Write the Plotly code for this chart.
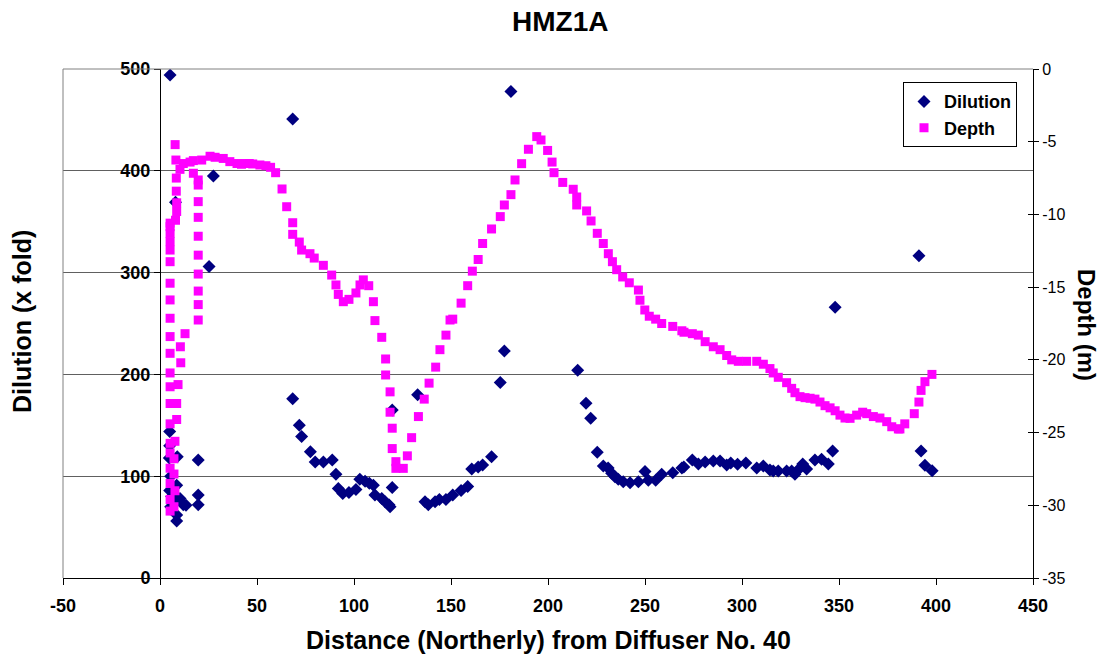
import plotly.graph_objects as go

# ---- Dilution (x fold) vs distance ----
dil_x = [5.2, 5.0, 5.0, 4.8, 5.5, 5.0, 6.0, 5.5,
         8.0, 8.9, 8.6, 8.6, 10.3, 12.0, 13.4, 8.6, 8.6,
         19.7, 19.7, 19.7, 25.3, 27.5,
         68.4, 68.4, 71.8, 73.0, 77.5, 80.0, 84.2, 88.8, 90.7, 91.9, 94.2, 97.4,
         101.0, 103.0, 105.7, 107.9, 110.0, 110.8, 114.3, 116.0, 118.0, 119.7, 119.7, 118.6,
         132.8, 136.6, 138.3, 141.8, 144.0, 147.4, 150.9, 155.2, 158.6, 160.7, 164.0, 166.3,
         170.9, 175.4, 177.5, 180.9,
         215.3, 219.6, 222.0, 225.4, 228.5, 231.0, 232.8, 234.5, 236.2, 238.8, 242.3, 246.6,
         250.0, 251.7, 255.5, 258.6, 264.3, 269.0, 270.0, 274.4, 277.5, 281.0, 285.2, 288.7,
         292.1, 294.2, 297.7, 302.0, 307.6,
         311.0, 314.4, 316.1, 318.7, 323.0, 325.6, 327.3, 329.9, 331.3, 333.3, 337.6, 341.0,
         344.5, 346.7, 348.0,
         391.2, 392.3, 394.3, 398.0]
dil_y = [494, 144, 130, 118, 100, 86, 80, 70,
         369, 119, 91, 77, 78, 72, 71.5, 62, 56,
         116, 81.5, 72, 306, 395,
         451, 176, 150, 139, 124, 114, 114, 116, 102, 88, 83, 84,
         87, 97, 95, 93, 91, 81.5, 78, 75, 72, 89, 165, 70,
         180, 75, 72, 75, 77, 77, 81.5, 86, 90, 107, 109, 111,
         119, 192, 223, 478,
         204, 171.6, 157, 123.5, 110, 108, 103, 99.5, 97, 94.6, 93.6, 94.6,
         104.5, 96, 96, 102, 103.5, 108, 109, 116, 112, 114, 115, 115,
         111, 113, 111.7, 113, 108,
         110, 106, 105, 105, 105, 105, 102, 108, 112, 107, 116, 116.6,
         112, 124.7, 266,
         316.6, 124.7, 110.7, 105.4]

# ---- Depth (m) vs distance ----
dep_x = [5.2, 5.2, 5.2, 5.2, 5.2, 5.2, 5.2, 5.2, 5.2, 5.2, 5.2, 5.2,
         5.2, 5.2, 5.2, 5.2, 5.2, 5.2, 5.2, 5.2, 5.2,
         7.8, 8.2, 8.4, 8.4, 8.6, 8.6, 8.0,
         9.3, 8.6, 8.6, 7.7, 7.2, 7.2, 7.7, 7.2,
         10.3, 10.7, 10.5, 12.9,
         12.0, 15.5, 17.2, 21.5, 25.8, 28.4, 32.6, 36.0, 39.7, 42.0, 44.0, 46.0,
         47.8, 51.5, 54.6, 57.0, 59.6,
         17.2, 19.7, 19.7, 19.7, 19.7, 19.7, 19.7, 19.7, 19.7, 19.7, 19.7,
         62.9, 65.3, 68.4, 68.4, 71.8, 73.0, 77.3, 79.5, 84.2, 88.5, 90.7, 91.9,
         94.5, 97.4, 101.0, 103.1, 104.8, 107.6, 110.0, 110.8, 114.3, 116.3, 116.3,
         118.6, 118.6, 119.7, 119.7, 121.6, 121.6, 125.4, 127.5, 129.7, 133.2, 136.2,
         138.7, 142.1, 144.3, 147.4, 149.5, 150.9, 155.2, 158.6, 161.0, 164.0, 166.3,
         170.9, 175.4, 177.5, 180.9, 183.0, 186.4, 189.9, 194.2, 196.4, 199.8, 202.1,
         203.1, 207.6, 213.0, 214.8, 214.8,
         219.9, 222.2, 225.4, 228.5, 231.1, 233.2, 235.4, 238.5, 241.9, 246.6, 247.4,
         249.9, 252.2, 255.5, 258.6, 264.3, 269.0, 270.1, 274.4, 277.5, 281.0,
         285.2, 288.7, 292.1, 294.7, 298.1, 302.4, 307.6,
         311.0, 314.4, 316.1, 318.7, 323.0, 325.6, 327.3, 329.9, 332.5, 335.1,
         337.6, 340.2, 342.8, 345.4, 348.0, 350.5, 353.1, 355.7,
         359.1, 362.2, 364.3, 367.7, 371.1, 374.6, 377.2, 380.6, 381.4,
         383.9, 388.8, 391.2, 392.3, 394.3, 397.9]
dep_y = [-10.6, -10.84, -11.3, -11.87, -12.45, -13.25, -14.73, -15.88, -17.14, -18.4, -19.55, -20.9,
         -21.85, -23.0, -24.4, -25.74, -26.4, -27.45, -28.5, -29.6, -30.4,
         -5.2, -6.26, -7.5, -8.4, -9.2, -9.8, -10.4,
         -21.7, -23.0, -24.1, -25.6, -26.8, -27.85, -29.0, -30.1,
         -6.9, -20.2, -19.1, -18.2,
         -6.5, -6.4, -6.3, -6.26, -6.0, -6.07, -6.15, -6.37, -6.5, -6.55, -6.5, -6.5,
         -6.53, -6.6, -6.65, -6.76, -7.13,
         -7.17, -7.63, -7.98, -9.12, -10.2, -11.5, -12.8, -14.1, -15.27, -16.2, -17.26,
         -8.25, -9.47, -10.57, -11.37, -11.9, -12.45, -12.7, -13.0, -13.5, -14.17, -14.85, -15.5,
         -16.0, -15.84, -15.4, -14.85, -14.5, -14.9, -16.0, -17.3, -18.45, -19.94, -21.04,
         -22.2, -23.6, -24.7, -26.1, -27.0, -27.46, -27.46, -26.6, -25.35, -23.9, -22.7,
         -21.6, -20.5, -19.3, -18.3, -17.26, -17.2, -16.1, -14.9, -13.9, -13.1, -12.0,
         -11.0, -10.15, -9.35, -8.64, -7.63, -6.51, -5.52, -4.65, -4.88, -5.6, -6.4,
         -7.13, -7.8, -8.27, -8.8, -9.35,
         -9.76, -10.45, -11.3, -12.0, -12.7, -13.25, -13.8, -14.3, -14.7, -15.2, -15.9,
         -16.57, -17.0, -17.2, -17.5, -17.7, -18.0, -18.1, -18.2, -18.3, -18.75,
         -19.1, -19.3, -19.7, -20.0, -20.1, -20.1, -20.1,
         -20.3, -20.6, -20.9, -21.2, -21.57, -21.96, -22.26, -22.53, -22.6, -22.64,
         -22.7, -22.9, -23.15, -23.3, -23.5, -23.8, -24.0, -24.02,
         -23.8, -23.6, -23.7, -23.9, -24.0, -24.25, -24.6, -24.75, -24.75,
         -24.4, -23.7, -22.9, -22.1, -21.5, -21.0]

x_ticks = [-50, 0, 50, 100, 150, 200, 250, 300, 350, 400, 450]
x_tick_text = ["-50", "0", "50", "100", "150", "200", "250", "300", "350", "400", "450"]
dil_ticks = [0, 100, 200, 300, 400, 500]
dil_tick_text = ["0", "100", "200", "300", "400", "500"]
dep_ticks = [0, -5, -10, -15, -20, -25, -30, -35]
dep_tick_text = ["0", "-5", "-10", "-15", "-20", "-25", "-30", "-35"]

FONT = "Liberation Sans, Arial, sans-serif"

fig = go.Figure()
fig.add_trace(go.Scatter(
    x=dil_x, y=dil_y, mode="markers", name="Dilution",
    marker=dict(symbol="diamond", size=10, color="#000080"),
    yaxis="y"))
fig.add_trace(go.Scatter(
    x=dep_x, y=dep_y, mode="markers", name="Depth",
    marker=dict(symbol="square", size=9, color="#FF00FF"),
    yaxis="y2"))
# helper trace so that the inner tick marks of the right axis are drawn
fig.add_trace(go.Scatter(x=[None], y=[None], yaxis="y3", showlegend=False,
                         hoverinfo="skip", mode="markers"))

fig.update_layout(
    width=1102, height=662,
    margin=dict(l=63, r=69, t=69, b=84),
    paper_bgcolor="white", plot_bgcolor="white",
    font=dict(family=FONT, color="black"),
    showlegend=True,
    legend=dict(x=(903 - 63) / 970, y=0.974, xanchor="left", yanchor="top",
                bordercolor="black", borderwidth=1, bgcolor="white",
                font=dict(family=FONT, size=18, weight="bold"),
                itemwidth=30, tracegroupgap=0),
    xaxis=dict(range=[-50, 450], tickvals=x_ticks, ticktext=x_tick_text,
               ticks="outside", ticklen=6,
               tickcolor="black", showline=True, linecolor="black", linewidth=1,
               showgrid=False, zeroline=False, ticklabelstandoff=5,
               tickfont=dict(family=FONT, size=18, weight="bold")),
    yaxis=dict(range=[0, 500], tickvals=dil_ticks, ticktext=dil_tick_text,
               ticks="outside", ticklen=6,
               tickcolor="black", anchor="free", position=0.1,
               showline=True, linecolor="black", linewidth=1,
               showgrid=True, gridcolor="#606060", gridwidth=1, zeroline=False,
               tickfont=dict(family=FONT, size=18, weight="bold")),
    yaxis2=dict(range=[-35, 0], tickvals=dep_ticks, ticktext=dep_tick_text,
                overlaying="y", side="right",
                anchor="x", ticks="outside", ticklen=5, tickcolor="black",
                showline=True, linecolor="black", linewidth=1,
                showgrid=False, zeroline=False,
                tickfont=dict(family=FONT, size=16)),
    yaxis3=dict(range=[-35, 0], tickvals=dep_ticks, overlaying="y", side="right",
                anchor="x", ticks="inside", ticklen=5, tickcolor="black",
                showticklabels=False, showline=False, showgrid=False, zeroline=False),
    shapes=[
        dict(type="line", xref="paper", yref="paper", x0=0, x1=0, y0=0, y1=1,
             line=dict(color="#808080", width=1)),
        dict(type="line", xref="paper", yref="paper", x0=0, x1=1, y0=1, y1=1,
             line=dict(color="#808080", width=1)),
    ],
    annotations=[
        dict(text="<b>HMZ1A</b>", xref="paper", yref="paper", x=(560 - 63) / 970,
             y=(578 - 21) / 509, xanchor="center", yanchor="middle", showarrow=False,
             font=dict(family=FONT, size=28)),
        dict(text="<b>Dilution (x fold)</b>", xref="paper", yref="paper",
             x=(22 - 63) / 970, y=(578 - 322) / 509, xanchor="center", yanchor="middle",
             textangle=-90, showarrow=False, font=dict(family=FONT, size=25)),
        dict(text="<b>Depth (m)</b>", xref="paper", yref="paper",
             x=(1087 - 63) / 970, y=(578 - 325) / 509, xanchor="center", yanchor="middle",
             textangle=90, showarrow=False, font=dict(family=FONT, size=24)),
        dict(text="<b>Distance (Northerly) from Diffuser No. 40</b>", xref="paper",
             yref="paper", x=(548 - 63) / 970, y=(578 - 640) / 509, xanchor="center",
             yanchor="middle", showarrow=False, font=dict(family=FONT, size=25)),
    ],
)

fig.write_html("out.html")
